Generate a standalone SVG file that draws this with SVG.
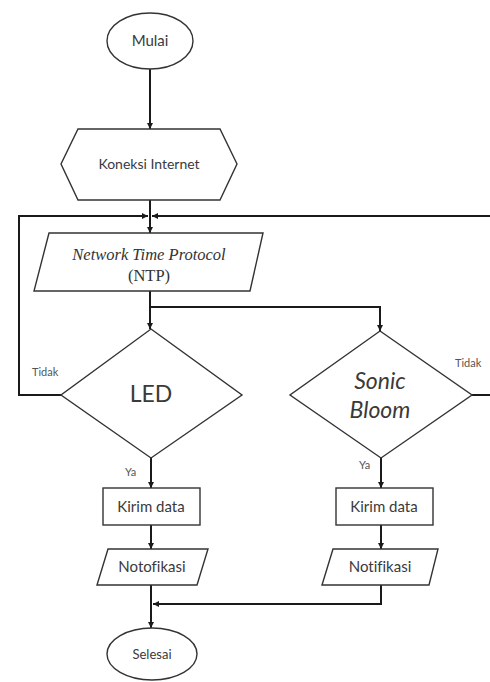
<svg xmlns="http://www.w3.org/2000/svg" width="490" height="682" viewBox="0 0 490 682">
  <defs>
    <marker id="arrow" viewBox="0 0 10 10" refX="10" refY="5" markerWidth="6" markerHeight="6" markerUnits="userSpaceOnUse" orient="auto">
      <path d="M0,0 L10,5 L0,10 z" fill="#1a1a1a"/>
    </marker>
    <style>
      .shape { fill: #ffffff; stroke: #333333; stroke-width: 1.4; }
      .conn { fill: none; stroke: #1a1a1a; stroke-width: 2; }
      .lbl { font-family: Lato, "Liberation Sans", sans-serif; fill: #3a3a3a; text-anchor: middle; font-variant-ligatures: none; }
      .small { font-family: Lato, "Liberation Sans", sans-serif; fill: #555555; font-size: 11px; }
      .serif { font-family: "Liberation Serif", serif; fill: #333333; text-anchor: middle; font-size: 16.5px; }
    </style>
  </defs>

  <rect width="490" height="682" fill="#ffffff"/>

  <!-- connectors -->
  <g id="connectors">
    <path class="conn" d="M150,69 V129" marker-end="url(#arrow)"/>
    <path class="conn" d="M150,200 V216"/>
    <path class="conn" d="M61,395 H19 V216 H148" marker-end="url(#arrow)"/>
    <path class="conn" d="M472,395 H490"/>
    <path class="conn" d="M490,216 H152" marker-end="url(#arrow)"/>
    <path class="conn" d="M150,216 V233" marker-end="url(#arrow)"/>
    <path class="conn" d="M150,291 V329" marker-end="url(#arrow)"/>
    <path class="conn" d="M150,307 H380 V331" marker-end="url(#arrow)"/>
    <path class="conn" d="M151,458 V488" marker-end="url(#arrow)"/>
    <path class="conn" d="M381,458 V488" marker-end="url(#arrow)"/>
    <path class="conn" d="M151,525 V549" marker-end="url(#arrow)"/>
    <path class="conn" d="M381,525 V549" marker-end="url(#arrow)"/>
    <path class="conn" d="M151,585 V628" marker-end="url(#arrow)"/>
    <path class="conn" d="M381,585 V604 H153" marker-end="url(#arrow)"/>
    <text class="small" x="32" y="376">Tidak</text>
    <text class="small" x="455" y="367">Tidak</text>
    <text class="small" x="125" y="476">Ya</text>
    <text class="small" x="359" y="469">Ya</text>
  </g>

  <!-- start -->
  <g id="mulai">
    <ellipse class="shape" cx="150" cy="41" rx="43" ry="28"/>
    <text class="lbl" x="150" y="46" font-size="15">Mulai</text>
  </g>

  <!-- internet connection -->
  <g id="koneksi">
    <path class="shape" d="M78,129 H220 L237,164 L220,200 H78 L61,164 Z"/>
    <text class="lbl" x="149" y="169" font-size="14">Koneksi Internet</text>
  </g>

  <!-- NTP input -->
  <g id="ntp">
    <path class="shape" d="M49,233 H263 L250,291 H34 Z"/>
    <text class="serif" x="149" y="260" font-style="italic">Network Time Protocol</text>
    <text class="serif" x="149" y="281">(NTP)</text>
  </g>

  <!-- LED decision -->
  <g id="led">
    <path class="shape" d="M151,329 L242,395 L151,458 L61,395 Z"/>
    <text class="lbl" x="151" y="402" font-size="23">LED</text>
  </g>

  <!-- Sonic Bloom decision -->
  <g id="sonic-bloom">
    <path class="shape" d="M380,331 L472,395 L381,458 L290,395 Z"/>
    <text class="lbl" x="380" y="389" font-size="23" font-style="italic">Sonic</text>
    <text class="lbl" x="380" y="418" font-size="23" font-style="italic">Bloom</text>
  </g>

  <!-- send data -->
  <g id="kirim-led">
    <rect class="shape" x="103" y="488" width="97" height="37"/>
    <text class="lbl" x="151" y="512" font-size="15">Kirim data</text>
  </g>
  <g id="kirim-sonic">
    <rect class="shape" x="336" y="488" width="97" height="37"/>
    <text class="lbl" x="384" y="512" font-size="15">Kirim data</text>
  </g>

  <!-- notifications -->
  <g id="notif-led">
    <path class="shape" d="M108,549 H208 L197,585 H97 Z"/>
    <text class="lbl" x="152" y="572" font-size="15">Notofikasi</text>
  </g>
  <g id="notif-sonic">
    <path class="shape" d="M333,549 H438 L429,585 H322 Z"/>
    <text class="lbl" x="380" y="572" font-size="15">Notifikasi</text>
  </g>

  <!-- end -->
  <g id="selesai">
    <ellipse class="shape" cx="152" cy="654" rx="45" ry="26"/>
    <text class="lbl" x="152" y="659" font-size="13">Selesai</text>
  </g>
</svg>
